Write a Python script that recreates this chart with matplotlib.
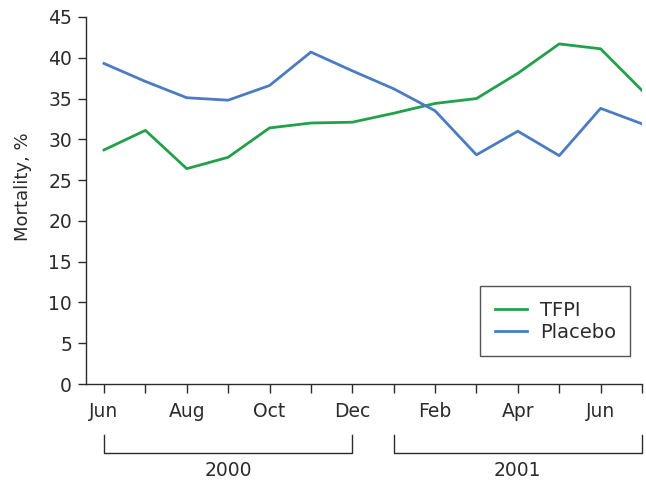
import numpy as np
import matplotlib.pyplot as plt

plt.rcParams['font.family'] = ['DejaVu Sans']

# Monatswerte Jun 2000 .. Jul 2001
months = ['Jun', 'Jul', 'Aug', 'Sep', 'Oct', 'Nov', 'Dec',
          'Jan', 'Feb', 'Mar', 'Apr', 'May', 'Jun', 'Jul']
tfpi = [28.7, 31.1, 26.4, 27.8, 31.4, 32.0, 32.1,
        33.2, 34.4, 35.0, 38.1, 41.7, 41.1, 36.0]
placebo = [39.3, 37.1, 35.1, 34.8, 36.6, 40.7, 38.4,
           36.2, 33.5, 28.1, 31.0, 28.0, 33.8, 31.9]
years = ['2000', '2001']
year_spans = [(0, 6), (7, 13)]

green = '#23a04a'
blue = '#4d7bc3'
dark = '#2b2b2b'

fig = plt.figure(figsize=(6.46, 4.82), dpi=100)
ax = fig.add_axes([86 / 646, 1 - 384 / 482, (642 - 86) / 646, (384 - 17) / 482])

x = np.arange(len(months))
ax.plot(x, tfpi, color=green, lw=2.0, label='TFPI')
ax.plot(x, placebo, color=blue, lw=2.0, label='Placebo')

ax.set_xlim(-0.435, 13)
ax.set_ylim(0, 45)
ax.set_yticks(np.arange(0, 46, 5))
ax.set_xticks(x)
ax.set_xticklabels([m if i % 2 == 0 else '' for i, m in enumerate(months)])
ax.tick_params(axis='both', labelsize=13.5, direction='out', width=1.0,
               color=dark, labelcolor=dark)
ax.tick_params(axis='x', length=6.5, pad=6.5)
ax.tick_params(axis='y', length=6, pad=4)
for s in ['top', 'right']:
    ax.spines[s].set_visible(False)
for s in ['left', 'bottom']:
    ax.spines[s].set_linewidth(1.0)
    ax.spines[s].set_color(dark)

ax.set_ylabel('Mortality, %', fontsize=13, color=dark)
ax.yaxis.set_label_coords(-0.097, 0.538)

# Jahresklammern unter der Achse
trans = ax.get_xaxis_transform()
for (a, b), yr in zip(year_spans, years):
    ax.plot([a, a, b, b], [-0.139, -0.187, -0.187, -0.139], color=dark,
            lw=1.0, transform=trans, clip_on=False)
    ax.text((a + b) / 2, -0.237, yr, transform=trans, ha='center', va='center',
            fontsize=13.5, color=dark)

leg = ax.legend(loc='upper left', bbox_to_anchor=(0.7086, 0.267), borderaxespad=0,
                fontsize=14, frameon=True, fancybox=False, edgecolor=dark,
                handlelength=1.65, handletextpad=0.67, borderpad=0.75,
                labelspacing=0.15)
leg.get_frame().set_linewidth(1.0)
for t in leg.get_texts():
    t.set_color(dark)

fig.savefig('out.png', dpi=100)
